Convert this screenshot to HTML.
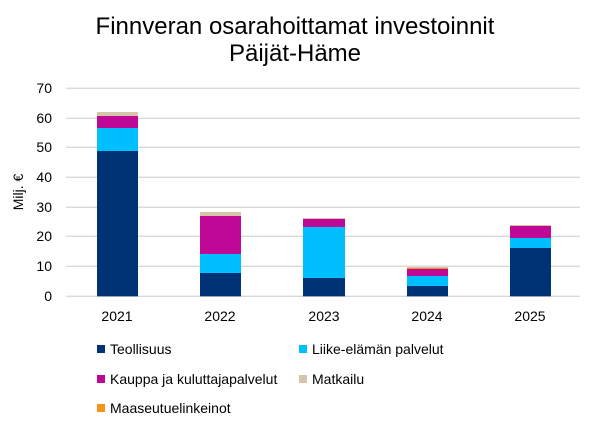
<!DOCTYPE html>
<html><head><meta charset="utf-8"><style>body{margin:0;background:#fff}svg{display:block}text{font-family:"Liberation Sans",sans-serif}</style></head><body>
<svg width="606" height="426" viewBox="0 0 606 426">
<text x="295" y="34" font-size="24" text-anchor="middle" fill="#000">Finnveran osarahoittamat investoinnit</text>
<text x="295" y="61" font-size="24" text-anchor="middle" fill="#000">Päijät-Häme</text>
<g stroke="#d9d9d9" stroke-width="1.3">
<line x1="66" x2="580" y1="88.3" y2="88.3"/><line x1="66" x2="580" y1="118.3" y2="118.3"/><line x1="66" x2="580" y1="147.3" y2="147.3"/><line x1="66" x2="580" y1="177.3" y2="177.3"/><line x1="66" x2="580" y1="207.3" y2="207.3"/><line x1="66" x2="580" y1="236.3" y2="236.3"/><line x1="66" x2="580" y1="266.3" y2="266.3"/><line x1="66" x2="580" y1="296.3" y2="296.3"/>
</g>
<g font-size="14" text-anchor="end" fill="#000">
<text x="52" y="93">70</text><text x="52" y="123">60</text><text x="52" y="152">50</text><text x="52" y="182">40</text><text x="52" y="212">30</text><text x="52" y="241">20</text><text x="52" y="271">10</text><text x="52" y="301">0</text>
</g>
<text transform="translate(23,192) rotate(-90)" font-size="14" text-anchor="middle">Milj. €</text>
<rect x="97" y="112" width="41" height="4" fill="#d5c4a8"/><rect x="97" y="116" width="41" height="12" fill="#bf0896"/><rect x="97" y="128" width="41" height="23" fill="#00bfff"/><rect x="97" y="151" width="41" height="145.3" fill="#003375"/>
<rect x="200" y="212" width="41" height="4" fill="#d5c4a8"/><rect x="200" y="216" width="41" height="38" fill="#bf0896"/><rect x="200" y="254" width="41" height="19" fill="#00bfff"/><rect x="200" y="273" width="41" height="23.3" fill="#003375"/>
<rect x="303" y="218" width="42" height="1" fill="#d5c4a8"/><rect x="303" y="219" width="42" height="8" fill="#bf0896"/><rect x="303" y="227" width="42" height="51" fill="#00bfff"/><rect x="303" y="278" width="42" height="18.3" fill="#003375"/>
<rect x="407" y="267" width="41" height="1" fill="#d5c4a8"/><rect x="407" y="268" width="41" height="1" fill="#f7941d"/><rect x="407" y="269" width="41" height="7" fill="#bf0896"/><rect x="407" y="276" width="41" height="10" fill="#00bfff"/><rect x="407" y="286" width="41" height="10.3" fill="#003375"/>
<rect x="510" y="225" width="41" height="1" fill="#d5c4a8"/><rect x="510" y="226" width="41" height="12" fill="#bf0896"/><rect x="510" y="238" width="41" height="10" fill="#00bfff"/><rect x="510" y="248" width="41" height="48.3" fill="#003375"/>
<g font-size="14" text-anchor="middle">
<text x="117" y="321">2021</text><text x="220" y="321">2022</text><text x="324" y="321">2023</text><text x="427" y="321">2024</text><text x="530" y="321">2025</text>
</g>
<g font-size="14">
<rect x="97" y="345" width="8" height="8" fill="#003375"/><text x="110" y="354">Teollisuus</text>
<rect x="299" y="345" width="8" height="8" fill="#00bfff"/><text x="312" y="354">Liike-elämän palvelut</text>
<rect x="97" y="375" width="8" height="8" fill="#bf0896"/><text x="110" y="384">Kauppa ja kuluttajapalvelut</text>
<rect x="299" y="375" width="8" height="8" fill="#d5c4a8"/><text x="312" y="384">Matkailu</text>
<rect x="97" y="404" width="8" height="8" fill="#f7941d"/><text x="110" y="413">Maaseutuelinkeinot</text>
</g>
</svg>
</body></html>
